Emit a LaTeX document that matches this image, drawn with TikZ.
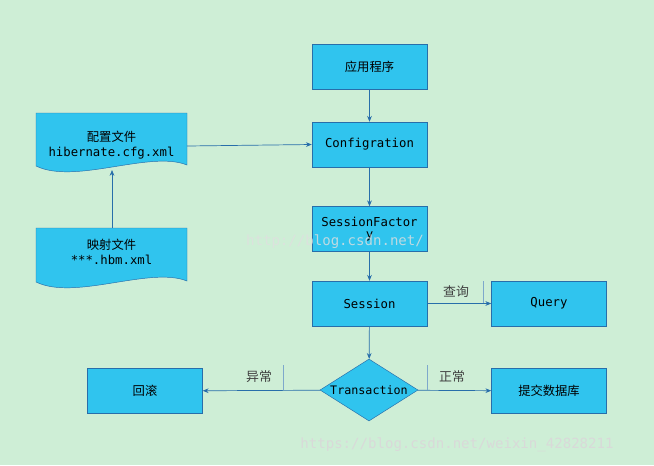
\documentclass[tikz,border=0pt]{standalone}
\usepackage{fontspec}
\setmainfont{Noto Sans CJK SC}
\newfontfamily\monof{DejaVu Sans Mono}
\usetikzlibrary{shapes.geometric,arrows.meta}
\definecolor{bgc}{RGB}{206,238,214}
\definecolor{boxc}{RGB}{48,196,238}
\definecolor{edgec}{RGB}{40,110,170}
\newlength\pxu \setlength\pxu{0.03cm}
\tikzset{
  box/.style={draw=edgec,fill=boxc,minimum width=115\pxu,minimum height=45\pxu,inner sep=1pt,font=\fontsize{10.5}{12}\selectfont,align=center},
  arr/.style={draw=edgec,-{Stealth[length=5pt,width=4pt]},line width=0.6pt},
  lbl/.style={font=\fontsize{11}{13}\selectfont,text=black!75},
  tick/.style={draw=edgec!60,line width=0.5pt},
  docf/.style={draw=edgec,fill=boxc},
}
\begin{document}
\begin{tikzpicture}[x=0.03cm,y=-0.03cm]
\fill[bgc] (0,0) rectangle (654,465);
\useasboundingbox (0,0) rectangle (654,465);
\node[box] (app) at (369.5,66.5) {应用程序};
\node[box] (cfg) at (369.5,144.5) {\monof Configration};
\node[box] (sf) at (369.5,229) {\monof SessionFactor\\[-2pt]\monof y};
\node[box] (ses) at (369.5,303.5) {\monof Session};
\node[box] (qry) at (549,303.5) {\monof Query};
\node[box] (rb) at (145,391) {回滚};
\node[box] (cm) at (549,391) {提交数据库};
\node[draw=edgec,fill=boxc,diamond,aspect=1.6,minimum width=98\pxu,minimum height=62\pxu,inner sep=0pt,font=\fontsize{10}{12}\selectfont] (tr) at (369,390) {\monof Transaction};
% documents
\draw[docf] (36,113) -- (187,113) -- (187,165) .. controls (150,150) and (75,185) .. (36,166) -- cycle;
\node[font=\fontsize{10.5}{13}\selectfont,align=center] (pz) at (111.5,145) {配置文件\\\monof hibernate.cfg.xml};
\draw[docf] (36,228) -- (187,228) -- (187,281) .. controls (150,266) and (75,301) .. (36,282) -- cycle;
\node[font=\fontsize{10.5}{13}\selectfont,align=center] (ys) at (111.5,252) {映射文件\\\monof ***.hbm.xml};
\coordinate (pzr) at (187,146);
\coordinate (pzb) at (112,170);
\coordinate (yst) at (112,228);
\draw[arr] (app) -- (cfg);
\draw[arr] (pzr) -- (cfg.west);
\draw[arr] (yst) -- (pzb);
\draw[arr] (cfg) -- (sf);
\draw[arr] (sf) -- (ses);
\draw[arr] (ses) -- (qry);
\draw[arr] (ses) -- (tr);
\draw[arr] (tr) -- (rb);
\draw[arr] (tr) -- (cm);
\node[lbl] (l1) at (456,292) {查询};
\node[lbl] (l2) at (259,377) {异常};
\node[lbl] (l3) at (452,377) {正常};
\draw[tick] (483,281) -- (483,303);
\draw[tick] (283,365) -- (283,390);
\draw[tick] (427,365) -- (427,390);
\node[font=\fontsize{12}{14}\selectfont\monof,text=white!75!gray,opacity=0.8] (w1) at (335,242) {http://blog.csdn.net/};
\node[font=\fontsize{12}{14}\selectfont\monof,text=white!70!gray] (w2) at (457,445) {https://blog.csdn.net/weixin\_42828211};
\end{tikzpicture}
\end{document}
